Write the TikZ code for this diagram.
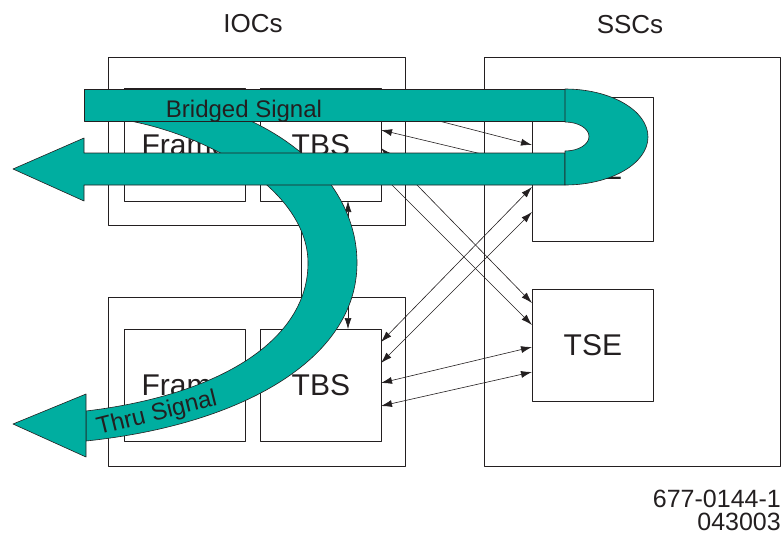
\documentclass[tikz,border=0pt]{standalone}
\usepackage{fontspec}
\setmainfont{Liberation Sans}
\usetikzlibrary{arrows.meta}
\definecolor{tealband}{RGB}{0,174,160}
\definecolor{ink}{RGB}{35,31,32}
\begin{document}
\begin{tikzpicture}[x=1pt,y=-1pt,line join=round,
  box/.style={draw=ink,line width=0.8pt,rectangle,anchor=north west,inner sep=0pt,
    font=\fontsize{30}{35}\selectfont,text=ink},
  dbl/.style={{Latex[length=11pt,width=7pt]}-{Latex[length=11pt,width=7pt]},line width=0.6pt,draw=ink},
  thinline/.style={line width=0.8pt,draw=ink},
  band/.style={fill=tealband,draw=ink,line width=0.6pt},
  lbl/.style={font=\fontsize{26}{30}\selectfont,text=ink,inner sep=0pt},
  bandlbl/.style={font=\fontsize{24}{28}\selectfont,text=ink,inner sep=0pt},
  codelbl/.style={font=\fontsize{25}{28}\selectfont,text=ink,inner sep=0pt}]
\useasboundingbox (0,0) rectangle (782,536);
% outer boxes
\node[box,minimum width=297pt,minimum height=168pt] (iocU) at (108,57) {};
\node[box,minimum width=297pt,minimum height=169pt] (iocL) at (108,297) {};
\node[box,minimum width=296pt,minimum height=409pt] (ssc) at (484,57) {};
% inner boxes
\node[box,minimum width=121pt,minimum height=113pt] (frameU) at (124,88) {Frame};
\node[box,minimum width=121pt,minimum height=113pt] (tbsU) at (260,88) {TBS};
\node[box,minimum width=121pt,minimum height=112pt] (frameL) at (124,329) {Frame};
\node[box,minimum width=121pt,minimum height=112pt] (tbsL) at (260,329) {TBS};
\node[box,minimum width=121pt,minimum height=144pt] (tseU) at (532,97) {TSE};
\node[box,minimum width=121pt,minimum height=112pt] (tseL) at (532,289) {TSE};
% connection points
\coordinate (l1) at (301,225); \coordinate (l2) at (301,297);
\coordinate (v1) at (348,201); \coordinate (v2) at (348,329);
\coordinate (a1) at (381,106); \coordinate (b1) at (532,145);
\coordinate (a2) at (381,130); \coordinate (b2) at (532,166);
\coordinate (a3) at (381,148); \coordinate (b3) at (532,303);
\coordinate (a4) at (381,174); \coordinate (b4) at (532,325);
\coordinate (a5) at (381,342); \coordinate (b5) at (532,187);
\coordinate (a6) at (381,363); \coordinate (b6) at (532,212);
\coordinate (a7) at (381,383); \coordinate (b7) at (532,347);
\coordinate (a8) at (381,406); \coordinate (b8) at (532,372);
\draw[thinline] (l1) -- (l2);
\draw[dbl] (v1) -- (v2);
\foreach \i in {1,...,8} { \draw[dbl] (a\i) -- (b\i); }
% thru signal band
\path[band] (92,116) .. controls (190,122) and (308,185) .. (308,263)
  .. controls (308,340) and (220,395) .. (86,411)
  -- (86,441)
  .. controls (240,425) and (357,360) .. (357,263)
  .. controls (357,190) and (295,125) .. (190,100) -- cycle;
\path[band] (86,394) -- (13,424) -- (86,457) -- cycle;
\node[bandlbl,rotate=14] (thru) at (157,414) {Thru Signal};
% bridged signal band
\path[band] (565,153) -- (84,153) -- (84,138) -- (13,169) -- (84,201) -- (84,185) -- (565,185) -- cycle;
\path[band] (84,89) rectangle (565,121);
\path[band] (565,89) .. controls (610.8,89) and (648,110.5) .. (648,137)
  .. controls (648,163.5) and (610.8,185) .. (565,185)
  -- (565,151) .. controls (578.3,151) and (589,144.5) .. (589,136.5)
  .. controls (589,128.5) and (578.3,122) .. (565,122) -- cycle;
\node[bandlbl,anchor=base] (bridged) at (244,117) {Bridged Signal};
% titles
\node[lbl,anchor=base] (iocs) at (253,32) {IOCs};
\node[lbl,anchor=base] (sscs) at (630,33) {SSCs};
\node[codelbl,anchor=base east] (code1) at (781,507) {677-0144-1};
\node[codelbl,anchor=base east] (code2) at (781,530) {043003};
\end{tikzpicture}
\end{document}
